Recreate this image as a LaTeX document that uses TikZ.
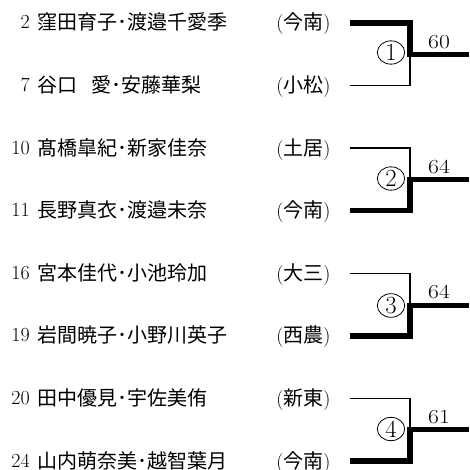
\documentclass[tikz,border=0pt]{standalone}
\usepackage{fontspec}
\usepackage{graphicx}
\usetikzlibrary{shapes.geometric}
\newfontfamily\cjk{Noto Sans CJK JP}
\newcommand{\widen}[1]{\scalebox{1.18}[1]{#1}}
\begin{document}
\begin{tikzpicture}[x=0.75pt,y=-0.75pt,
  numtxt/.style={anchor=base east, inner sep=0, font=\fontsize{15pt}{18pt}\selectfont},
  nametxt/.style={anchor=base west, inner sep=0, font=\fontsize{15pt}{18pt}\selectfont\cjk},
  schooltxt/.style={anchor=base west, inner sep=0, font=\fontsize{15pt}{18pt}\selectfont},
  thinline/.style={line width=0.9pt},
  thickline/.style={line width=3.9pt, miter limit=10},
  rnd/.style={ellipse, draw, line width=0.6pt, minimum width=20.5pt, minimum height=17.5pt, inner sep=0, font=\fontsize{18.5pt}{18pt}\selectfont},
  scoretxt/.style={anchor=base, inner sep=0, font=\fontsize{15pt}{18pt}\selectfont}]
\useasboundingbox (0,0) rectangle (469,470);

\foreach \i/\y/\n/\nm/\sc in {
  1/23/2/{窪田育子･渡邉千愛季}/今南,
  2/85.6/7/{谷口\hspace{10.5pt}愛･安藤華梨}/小松,
  3/148.1/10/{髙橋皐紀･新家佳奈}/土居,
  4/210.7/11/{長野真衣･渡邉未奈}/今南,
  5/273.3/16/{宮本佳代･小池玲加}/大三,
  6/335.9/19/{岩間暁子･小野川英子}/西農,
  7/398.4/20/{田中優見･宇佐美侑}/新東,
  8/461/24/{山内萌奈美･越智葉月}/今南}{
  \node[numtxt] (n\i) at (30,\y+6) {\n};
  \node[nametxt] (p\i) at (37,\y+7) {\nm};
  \node[schooltxt] (s\i) at (276,\y+7) {({\cjk \sc})};
  \coordinate (r\i) at (350,\y);
}

\coordinate (m1) at (410,54.3);   \coordinate (o1) at (469,54.3);
\coordinate (m2) at (410,179.4);  \coordinate (o2) at (469,179.4);
\coordinate (m3) at (410,305.2);  \coordinate (o3) at (469,305.2);
\coordinate (m4) at (410,429.7);  \coordinate (o4) at (469,429.7);

% bracket 1: top wins
\draw[thinline] (r2) -| (m1);
\draw[thickline] (r1) -| (m1) -- (o1);
% bracket 2: bottom wins
\draw[thinline] (r3) -| (m2);
\draw[thickline] (r4) -| (m2) -- (o2);
% bracket 3: bottom wins
\draw[thinline] (r5) -| (m3);
\draw[thickline] (r6) -| (m3) -- (o3);
% bracket 4: bottom wins
\draw[thinline] (r7) -| (m4);
\draw[thickline] (r8) -| (m4) -- (o4);

% round circles
\node[rnd] (c1) at (391,52.5) {1};
\node[rnd] (c2) at (391,178.5) {2};
\node[rnd] (c3) at (391,305.5) {3};
\node[rnd] (c4) at (391,429) {4};

% scores
\node[scoretxt] (sc1) at (439,48.3) {\widen{60}};
\node[scoretxt] (sc2) at (439,173.4) {\widen{64}};
\node[scoretxt] (sc3) at (439,298.6) {\widen{64}};
\node[scoretxt] (sc4) at (439,423.7) {\widen{61}};
\end{tikzpicture}
\end{document}
